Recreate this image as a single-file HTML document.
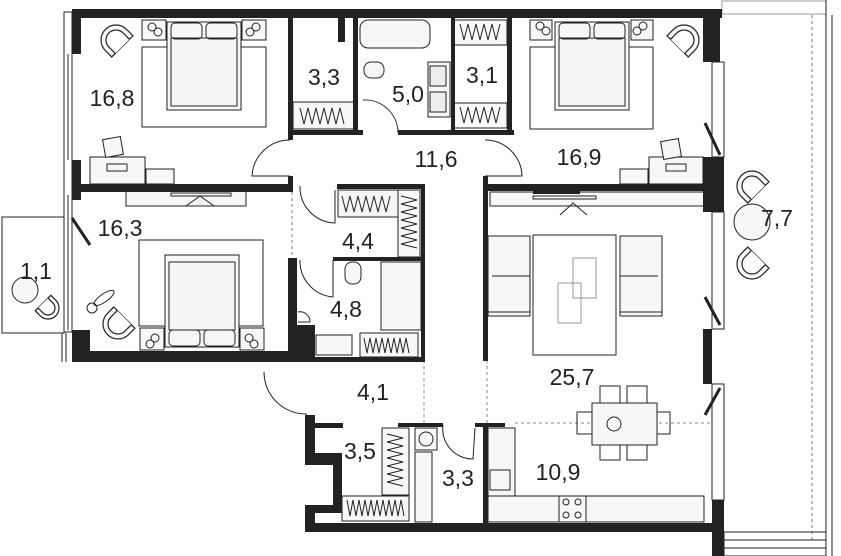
<!DOCTYPE html>
<html><head><meta charset="utf-8"><style>
html,body{margin:0;padding:0;background:#fff;}
svg{display:block}
text{font-family:"Liberation Sans",sans-serif;font-size:23px;fill:#222;text-anchor:middle}
</style></head><body>
<svg width="841" height="556" viewBox="0 0 841 556" xmlns="http://www.w3.org/2000/svg">
<defs>
<g id="ch" fill="#f7f7f7" stroke="#222" stroke-width="1.2">
<path d="M-15 -9 L15 -9 L15 0 A15 15 0 0 1 -15 0 Z"/>
<path d="M-10 -9 L-10 0 A10 10 0 0 0 10 0 L10 -9" fill="#fff"/>
</g>
<g id="sch" fill="#f7f7f7" stroke="#222" stroke-width="1.2">
<path d="M-11 -7 L11 -7 L11 0 A11 11 0 0 1 -11 0 Z"/>
<path d="M-7 -7 L-7 0 A7 7 0 0 0 7 0 L7 -7" fill="#fff"/>
</g>
</defs>
<g fill="none" stroke="#222" stroke-width="1">
<!-- balcony right -->
<rect x="722" y="1" width="104" height="13" stroke="#999"/>
<line x1="826" y1="0" x2="826" y2="556"/><line x1="832" y1="15" x2="832" y2="556"/>
<line x1="812" y1="15" x2="812" y2="540" stroke-dasharray="3,3" stroke="#777"/>
<rect x="724" y="532" width="102" height="24"/>
<line x1="724" y1="540" x2="826" y2="540"/><line x1="724" y1="548" x2="826" y2="548"/>
<!-- balcony left -->
<rect x="2" y="217" width="62" height="116"/>
<line x1="62" y1="333" x2="62" y2="362"/><line x1="66" y1="333" x2="66" y2="362"/>
<!-- left windows -->
<rect x="64" y="12" width="8" height="320"/>
<line x1="68" y1="54" x2="68" y2="160"/><line x1="68" y1="195" x2="68" y2="330"/>
<!-- right windows -->
<rect x="712" y="62" width="12" height="95"/><rect x="712" y="212" width="12" height="117"/><rect x="712" y="384" width="12" height="116"/>
<!-- dashed zone lines -->
<g stroke-dasharray="3,3" stroke="#888">
<line x1="292" y1="192" x2="292" y2="258"/><line x1="487" y1="360" x2="487" y2="424"/>
<line x1="424" y1="360" x2="424" y2="424"/><line x1="515" y1="423" x2="710" y2="423"/>
</g>
<!-- doors -->
<path d="M290 140 A38 38 0 0 0 252 176 L290 176"/>
<path d="M363 100 A33 33 0 0 1 398 133"/>
<path d="M485 140 A37 37 0 0 1 522 176 L485 176"/>
<path d="M300 186 A36 36 0 0 0 335 223 L335 190"/>
<path d="M300 260 A36 36 0 0 0 333 297 L333 260"/>
<path d="M264 372 A42 42 0 0 0 307 414"/>
<path d="M443 425 A30 30 0 0 0 473 459 L475 428"/>
<path d="M298 312 A10 10 0 0 1 310 322 L298 322"/>
<line x1="705" y1="123" x2="720" y2="155" stroke-width="3"/>
<line x1="705" y1="297" x2="720" y2="325" stroke-width="3"/>
<line x1="705" y1="415" x2="720" y2="388" stroke-width="3"/>
<line x1="72" y1="218" x2="90" y2="245" stroke-width="3"/>
<!-- bedroom 16.8 furniture -->
<rect x="142" y="20" width="24" height="20" fill="#f7f7f7"/><rect x="242" y="20" width="24" height="20" fill="#f7f7f7"/>
<circle cx="152" cy="27" r="4"/><circle cx="158" cy="32" r="4"/><circle cx="256" cy="27" r="4"/><circle cx="250" cy="32" r="4"/>
<rect x="142" y="47" width="124" height="80"/>
<rect x="167" y="22" width="74" height="88" fill="#f7f7f7"/><rect x="171" y="38" width="66" height="68" fill="#f5f5f5"/>
<rect x="171" y="23" width="31" height="16" rx="4"/><rect x="206" y="23" width="31" height="16" rx="4"/>
<rect x="90" y="157" width="55" height="27" fill="#f7f7f7"/><rect x="146" y="169" width="28" height="15" fill="#f7f7f7"/>
<rect x="104" y="138" width="18" height="18" fill="#f7f7f7" transform="rotate(-10 113 147)"/>
<rect x="107" y="164" width="20" height="7"/>
<!-- 3.3 closet -->
<rect x="293" y="102" width="61" height="27" fill="#f7f7f7"/>
<path d="M300 108 l4 16 l4-16 l4 16 l4-16 l4 16 l4-16 l4 16 l4-16 l4 16 l4-16 l4 16"/>
<!-- bath 5.0 -->
<rect x="360" y="20" width="70" height="28" rx="8" fill="#f7f7f7"/>
<rect x="364" y="62" width="20" height="16" rx="7" fill="#f7f7f7"/>
<rect x="428" y="62" width="22" height="55" fill="#f7f7f7"/>
<rect x="430" y="66" width="16" height="20" fill="#eee"/><rect x="430" y="92" width="16" height="20" fill="#eee"/>
<!-- 3.1 closet -->
<rect x="453" y="20" width="54" height="25" fill="#f7f7f7"/><rect x="453" y="103" width="54" height="25" fill="#f7f7f7"/>
<path d="M460 24 l4 16 l4-16 l4 16 l4-16 l4 16 l4-16 l4 16 l4-16 l4 16 l4-16 M460 107 l4 16 l4-16 l4 16 l4-16 l4 16 l4-16 l4 16 l4-16 l4 16 l4-16"/>
<!-- bedroom 16.9 -->
<rect x="530" y="20" width="22" height="20" fill="#f7f7f7"/><rect x="631" y="20" width="22" height="20" fill="#f7f7f7"/>
<circle cx="540" cy="26" r="4"/><circle cx="546" cy="31" r="4"/><circle cx="643" cy="26" r="4"/><circle cx="637" cy="31" r="4"/>
<rect x="530" y="47" width="123" height="82"/>
<rect x="555" y="22" width="74" height="88" fill="#f7f7f7"/><rect x="559" y="38" width="66" height="68" fill="#f5f5f5"/>
<rect x="559" y="23" width="31" height="16" rx="4"/><rect x="594" y="23" width="31" height="16" rx="4"/>
<rect x="649" y="157" width="54" height="27" fill="#f7f7f7"/><rect x="620" y="169" width="28" height="15" fill="#f7f7f7"/>
<rect x="662" y="140" width="18" height="18" fill="#f7f7f7" transform="rotate(-10 671 149)"/>
<rect x="666" y="164" width="20" height="7"/>
<!-- bedroom 16.3 -->
<rect x="126" y="190" width="120" height="16" fill="#f7f7f7"/><rect x="171" y="193" width="60" height="3"/>
<path d="M186 206 L200 196 L214 206"/>
<rect x="139" y="240" width="124" height="86"/>
<rect x="165" y="255" width="74" height="92" fill="#f7f7f7"/><rect x="169" y="262" width="66" height="68" fill="#f5f5f5"/>
<rect x="169" y="330" width="31" height="16" rx="4"/><rect x="204" y="330" width="31" height="16" rx="4"/>
<rect x="140" y="328" width="24" height="22" fill="#f7f7f7"/><rect x="240" y="328" width="24" height="22" fill="#f7f7f7"/>
<circle cx="150" cy="344" r="4"/><circle cx="155" cy="338" r="4"/><circle cx="254" cy="344" r="4"/><circle cx="249" cy="338" r="4"/>
<circle cx="92" cy="308" r="5"/><ellipse cx="104" cy="298" rx="12" ry="4" transform="rotate(-35 104 298)"/>
<circle cx="25" cy="290" r="13" fill="#f7f7f7"/>
<!-- 4.4 closet -->
<rect x="338" y="190" width="60" height="27" fill="#f7f7f7"/><rect x="398" y="190" width="22" height="67" fill="#f7f7f7"/>
<path d="M342 196 l4 16 l4-16 l4 16 l4-16 l4 16 l4-16 l4 16 l4-16 l4 16 l4-16 l4 16 l4-16 M401 196 l16 4 l-16 4 l16 4 l-16 4 l16 4 l-16 4 l16 4 l-16 4 l16 4 l-16 4 l16 4 l-16 4 l16 4"/>
<!-- 4.8 bath -->
<rect x="345" y="262" width="16" height="22" rx="7" fill="#f7f7f7"/>
<rect x="381" y="262" width="40" height="68" fill="#f7f7f7"/>
<rect x="316" y="335" width="36" height="20" fill="#f7f7f7"/>
<rect x="360" y="333" width="58" height="24" fill="#f7f7f7"/>
<path d="M364 338 l3 15 l3-15 l3 15 l3-15 l3 15 l3-15 l3 15 l3-15 l3 15 l3-15 l3 15 l3-15 l3 15 l3-15 l3 15"/>
<!-- 3.5 closet -->
<rect x="382" y="428" width="27" height="67" fill="#f7f7f7"/><rect x="342" y="496" width="67" height="25" fill="#f7f7f7"/>
<path d="M387 434 l16 4 l-16 4 l16 4 l-16 4 l16 4 l-16 4 l16 4 l-16 4 l16 4 l-16 4 l16 4 l-16 4 l16 4 M347 500 l3 16 l3-16 l3 16 l3-16 l3 16 l3-16 l3 16 l3-16 l3 16 l3-16 l3 16 l3-16 l3 16 l3-16 l3 16 l3-16 l3 16 l3-16 l3 16"/>
<!-- laundry -->
<rect x="415" y="428" width="22" height="22" fill="#f7f7f7"/><circle cx="426" cy="439" r="7"/>
<rect x="415" y="452" width="17" height="70" fill="#f7f7f7"/>
<!-- living -->
<rect x="490" y="192" width="215" height="14" fill="#f7f7f7"/><rect x="533" y="196" width="63" height="3"/>
<path d="M560 215 L573 203 L587 215"/>
<rect x="488" y="236" width="42" height="80" fill="#f7f7f7"/><rect x="620" y="236" width="42" height="80" fill="#f7f7f7"/>
<line x1="488" y1="312" x2="530" y2="312"/><line x1="620" y1="312" x2="662" y2="312"/>
<line x1="492" y1="276" x2="530" y2="276"/><line x1="620" y1="276" x2="658" y2="276"/>
<rect x="533" y="235" width="83" height="120"/>
<rect x="573" y="258" width="23" height="40" stroke="#999"/><rect x="558" y="283" width="23" height="40" stroke="#999"/>
<!-- dining -->
<rect x="600" y="386" width="20" height="22"/><rect x="627" y="386" width="20" height="22"/>
<rect x="600" y="438" width="20" height="22"/><rect x="627" y="438" width="20" height="22"/>
<rect x="577" y="412" width="20" height="22"/><rect x="650" y="412" width="20" height="22"/>
<rect x="592" y="403" width="65" height="42" fill="#f7f7f7"/><circle cx="614" cy="424" r="7"/>
<!-- kitchen -->
<rect x="488" y="428" width="27" height="92" fill="#f7f7f7"/><rect x="490" y="470" width="20" height="20"/>
<rect x="488" y="496" width="216" height="26" fill="#f7f7f7"/><rect x="559" y="496" width="27" height="26"/>
<circle cx="566" cy="502" r="3"/><circle cx="578" cy="502" r="3"/><circle cx="566" cy="515" r="3"/><circle cx="578" cy="515" r="3"/>
<!-- balcony 7.7 -->
<circle cx="752" cy="222" r="18" fill="#f7f7f7"/>
</g>
<use href="#ch" transform="translate(116,40) rotate(135)"/>
<use href="#ch" transform="translate(684,40) rotate(-135)"/>
<use href="#ch" transform="translate(118,324) rotate(45)"/>
<use href="#sch" transform="translate(48,308) rotate(-45)"/>
<use href="#ch" transform="translate(752,186) rotate(135)"/>
<use href="#ch" transform="translate(752,264) rotate(45)"/>
<!-- walls -->
<g fill="#222">
<rect x="72" y="9" width="650" height="9"/>
<rect x="72" y="9" width="9" height="45"/><rect x="72" y="160" width="9" height="40"/><rect x="72" y="330" width="18" height="32"/>
<rect x="72" y="184" width="220" height="8"/>
<rect x="288" y="18" width="5" height="122"/><rect x="288" y="176" width="5" height="16"/>
<rect x="292" y="130" width="71" height="5"/><rect x="398" y="130" width="116" height="5"/>
<rect x="353" y="18" width="5" height="114"/><rect x="338" y="18" width="7" height="24"/>
<rect x="451" y="18" width="4" height="114"/><rect x="507" y="18" width="5" height="117"/>
<rect x="703" y="10" width="17" height="52"/><rect x="703" y="157" width="21" height="55"/><rect x="703" y="329" width="9" height="55"/><rect x="712" y="500" width="12" height="32"/>
<rect x="483" y="184" width="222" height="7"/><rect x="483" y="176" width="5" height="185"/><rect x="483" y="423" width="5" height="102"/>
<rect x="533" y="184" width="47" height="10"/>
<rect x="337" y="184" width="88" height="5"/><rect x="421" y="184" width="4" height="178"/>
<rect x="333" y="257" width="92" height="4"/><rect x="288" y="258" width="9" height="100"/>
<rect x="72" y="351" width="243" height="11"/><rect x="297" y="325" width="18" height="37"/>
<rect x="315" y="357" width="110" height="5"/>
<rect x="305" y="415" width="10" height="50"/><rect x="305" y="453" width="37" height="12"/><rect x="333" y="455" width="9" height="55"/><rect x="305" y="505" width="37" height="8"/><rect x="305" y="505" width="10" height="27"/>
<rect x="315" y="423" width="28" height="5"/><rect x="398" y="423" width="45" height="4"/><rect x="475" y="423" width="30" height="4"/>
<rect x="305" y="523" width="419" height="9"/><rect x="712" y="532" width="12" height="24"/>
</g>
<text x="112" y="106">16,8</text>
<text x="324" y="85">3,3</text>
<text x="408" y="102">5,0</text>
<text x="482" y="83">3,1</text>
<text x="436" y="167">11,6</text>
<text x="579" y="165">16,9</text>
<text x="120" y="236">16,3</text>
<text x="36" y="279">1,1</text>
<text x="777" y="226">7,7</text>
<text x="358" y="249">4,4</text>
<text x="346" y="317">4,8</text>
<text x="572" y="385">25,7</text>
<text x="373" y="400">4,1</text>
<text x="360" y="459">3,5</text>
<text x="458" y="486">3,3</text>
<text x="558" y="480">10,9</text>
</svg>
</body></html>
